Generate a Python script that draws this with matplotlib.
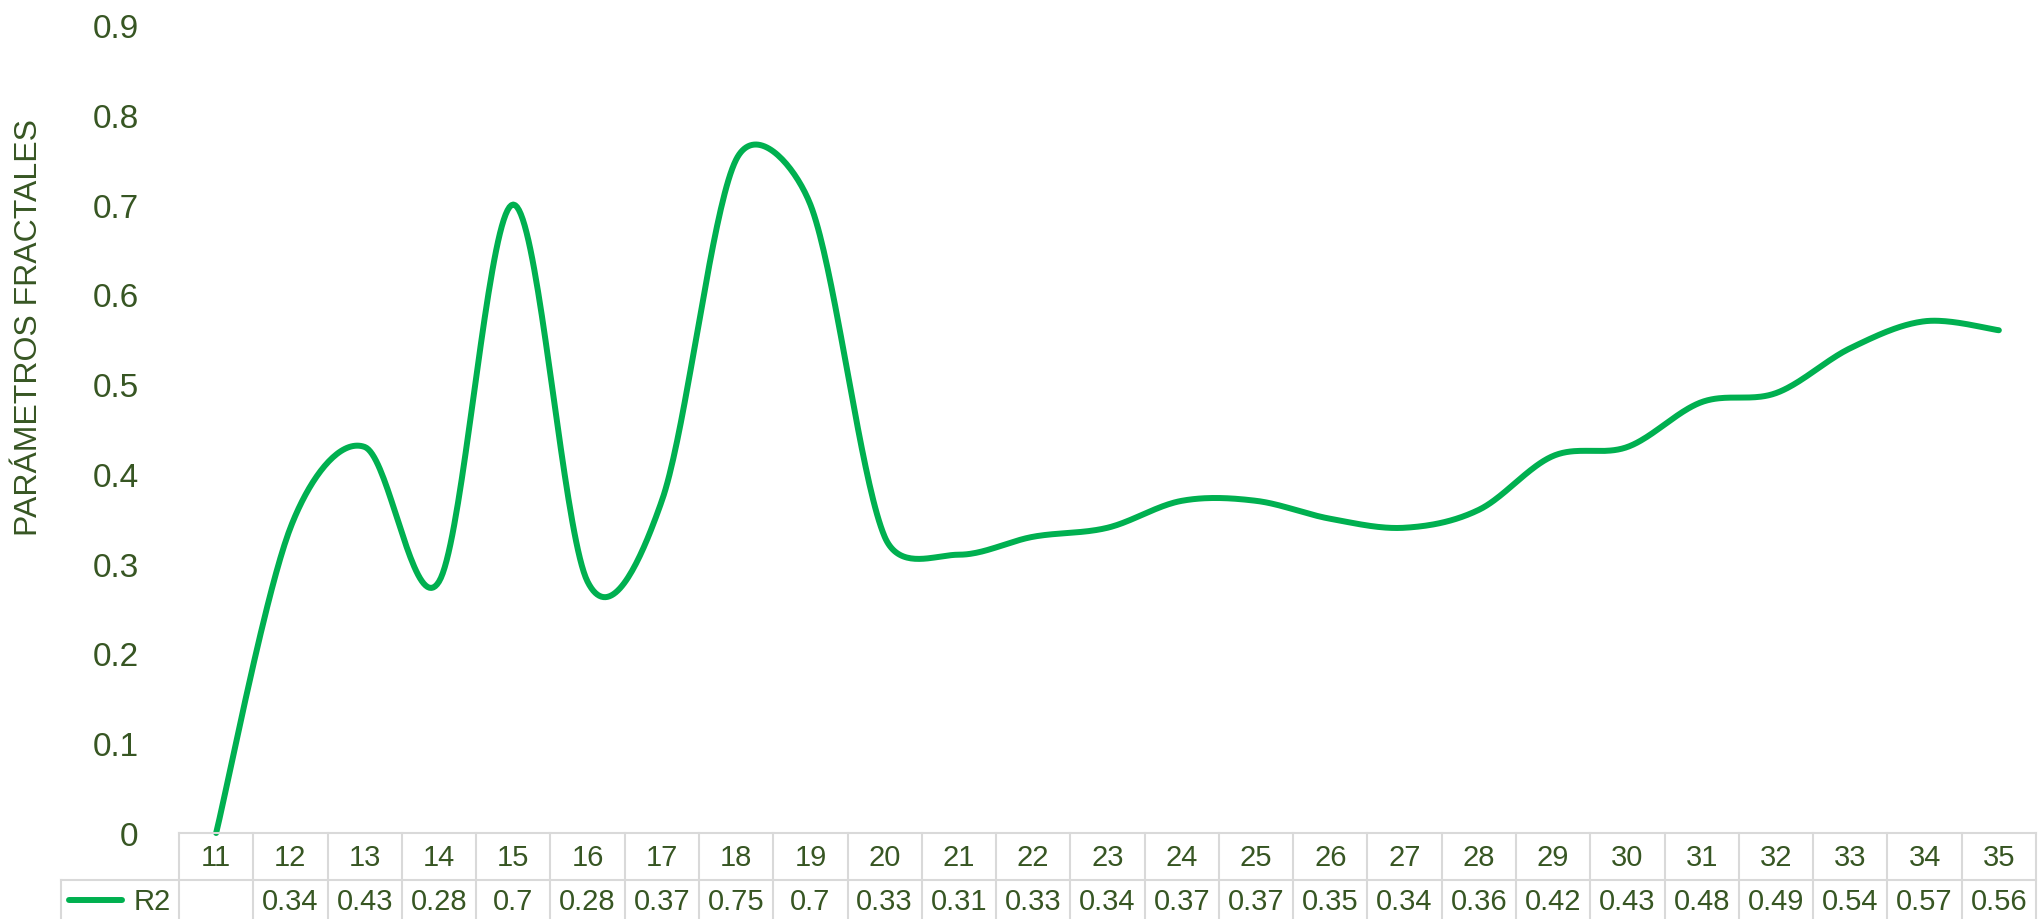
import numpy as np
import matplotlib
matplotlib.use("Agg")
import matplotlib.pyplot as plt
from matplotlib.lines import Line2D
from matplotlib.transforms import blended_transform_factory

# Series shown in the chart and its data table
categories = list(range(11, 36))
r2 = [None, 0.34, 0.43, 0.28, 0.7, 0.28, 0.37, 0.75, 0.7, 0.33, 0.31, 0.33, 0.34,
      0.37, 0.37, 0.35, 0.34, 0.36, 0.42, 0.43, 0.48, 0.49, 0.54, 0.57, 0.56]
y_ticks = [0, 0.1, 0.2, 0.3, 0.4, 0.5, 0.6, 0.7, 0.8, 0.9]
series_name = "R2"
y_title = "PARÁMETROS FRACTALES"

LINE = "#00B050"
TEXT = "#375623"
GRID = "#D9D9D9"
W, H = 2044, 920

plt.rcParams['font.family'] = ['Liberation Sans', 'DejaVu Sans']


def smooth(xs, ys, sx=1.0, sy=1.0, n=40):
    """Bezier smoothing through every point; control arms are limited to half
    the segment length (measured in pixels) so peaks don't overshoot much."""
    xs = np.asarray(xs, float) * sx
    ys = np.asarray(ys, float) * sy
    P = np.column_stack([xs, ys])
    P = np.vstack([P[0], P, P[-1]])
    t = np.linspace(0, 1, n)[:, None]
    out = []
    for i in range(1, len(P) - 2):
        p0, p1, p2, p3 = P[i - 1], P[i], P[i + 1], P[i + 2]
        d12 = np.hypot(*(p2 - p1))
        d02 = np.hypot(*(p2 - p0))
        d13 = np.hypot(*(p3 - p1))
        f0 = 1 / 6
        f1 = 1 / 6
        if d02 / 6 >= d12 / 2 and d02 > 0:
            f0 = d12 / 2 / d02
        if d13 / 6 >= d12 / 2 and d13 > 0:
            f1 = d12 / 2 / d13
        c1 = p1 + f0 * (p2 - p0)
        c2 = p2 - f1 * (p3 - p1)
        b = (1 - t) ** 3 * p1 + 3 * (1 - t) ** 2 * t * c1 + 3 * (1 - t) * t ** 2 * c2 + t ** 3 * p2
        out.append(b)
    out = np.vstack(out)
    return out[:, 0] / sx, out[:, 1] / sy


def fx(px):
    return px / W


def fy(py):
    return 1 - py / H


fig = plt.figure(figsize=(W / 100, H / 100), dpi=100)
left, right, top, bottom = 179, 2036, 26, 834
ax = fig.add_axes([fx(left), fy(bottom), fx(right) - fx(left), fy(top) - fy(bottom)])

idx = np.arange(len(categories))
# empty cell is drawn as zero on the line
vals = [0 if v is None else v for v in r2]
px_per_cat = (right - left) / len(categories)
px_per_unit = (bottom - top) / 0.9
lx, ly = smooth(idx, vals, px_per_cat, px_per_unit)
ax.plot(lx, ly, color=LINE, lw=4.3, solid_capstyle='round', clip_on=False)

ax.set_xlim(-0.5, len(categories) - 0.5)
ax.set_ylim(0, 0.9)
ax.set_yticks(y_ticks)
ax.set_yticklabels([f"{v:g}" for v in y_ticks], color=TEXT, fontsize=24)
ax.tick_params(axis='y', length=0, pad=29)
ax.set_xticks([])
for s in ax.spines.values():
    s.set_visible(False)

fig.text(fx(29), fy(328), y_title, rotation=90, ha='center', va='center',
         color=TEXT, fontsize=23)

# data table under the plot
tr = blended_transform_factory(ax.transData, fig.transFigure)
row1, row2, row_end = 834, 881, 920
fs = 21
kw = dict(color=GRID, lw=1.5, transform=fig.transFigure, clip_on=False)
fig.add_artist(Line2D([fx(left), fx(right)], [fy(row1), fy(row1)], **kw))
fig.add_artist(Line2D([fx(61), fx(right)], [fy(row2), fy(row2)], **kw))
fig.add_artist(Line2D([fx(61), fx(61)], [fy(row2), fy(row_end)], **kw))
for b in np.arange(-0.5, len(categories), 1.0):
    fig.add_artist(Line2D([b, b], [fy(row1), fy(row_end)], color=GRID, lw=1.5,
                          transform=tr, clip_on=False))

for i, (c, v) in enumerate(zip(categories, r2)):
    fig.text(i, fy(858), str(c), transform=tr, ha='center', va='center',
             color=TEXT, fontsize=fs)
    if v is not None:
        fig.text(i, fy(902), f"{v:g}", transform=tr, ha='center', va='center',
                 color=TEXT, fontsize=fs)

fig.add_artist(Line2D([fx(69), fx(122)], [fy(901), fy(901)], color=LINE, lw=4.3,
                      solid_capstyle='round', transform=fig.transFigure))
fig.text(fx(171), fy(902), series_name, ha='right', va='center', color=TEXT, fontsize=fs)

fig.savefig("out.png", dpi=100)
